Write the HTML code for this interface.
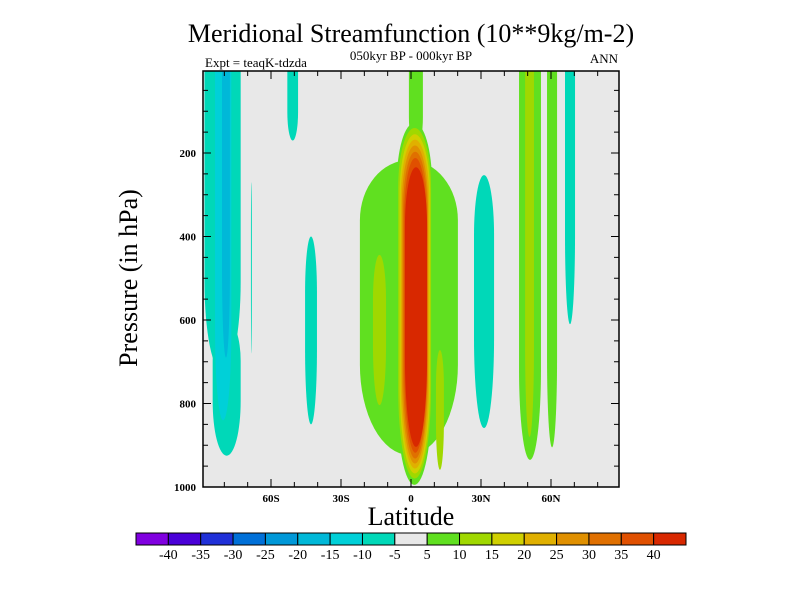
<!DOCTYPE html>
<html><head><meta charset="utf-8">
<style>
html,body{margin:0;padding:0;background:#fff;}
svg{display:block;font-family:"Liberation Serif",serif;}
</style></head>
<body>
<svg id="chart" width="800" height="600" viewBox="0 0 800 600" xmlns="http://www.w3.org/2000/svg">
<text x="411" y="42" text-anchor="middle" font-size="26">Meridional Streamfunction (10**9kg/m-2)</text>
<text x="411" y="60" text-anchor="middle" font-size="13">050kyr BP - 000kyr BP</text>
<text x="205" y="67" font-size="13">Expt = teaqK-tdzda</text>
<text x="618" y="63" text-anchor="end" font-size="13">ANN</text>
<text transform="translate(137,278) rotate(-90)" text-anchor="middle" font-size="26">Pressure (in hPa)</text>
<text x="411" y="525" text-anchor="middle" font-size="26">Latitude</text>
<defs><clipPath id="pc"><rect x="203" y="71" width="416" height="416"/></clipPath></defs>
<rect x="203" y="71" width="416" height="416" fill="#e8e8e8"/>
<g id="fills" clip-path="url(#pc)"></g>
<g id="axes"></g>
<g id="cbar"></g>
</svg>
<script>
// Contour level colors and colorbar labels
const levelColors = ["#8000e0","#4a00d8","#2030d8","#0070d8","#0098d8","#00b8d8","#00d0d8","#00d8b8","#e8e8e8","#60e020","#a0d800","#d0d000","#e0b000","#e09000","#e07000","#e05000","#d82800"];
const levelLabels = ["-40","-35","-30","-25","-20","-15","-10","-5","5","10","15","20","25","30","35","40"];
const xTickVals = [-60,-30,0,30,60];
const xTickLabels = ["60S","30S","0","30N","60N"];
const yTickVals = [200,400,600,800,1000];
// Blobs: [latLeft, latRight, pTop, pBottom, levelIndex]
const blobLat0 = [-88.5,-85,-84,-81,-68.6,-53,-45.4,-21.9,-16.3,10.7,27,46.3,48.9,58.3,66];
const blobLat1 = [-73,-73,-77,-77.6,-68.2,-48.4,-40.3,20.1,-10.7,14.1,35.6,55.7,52.7,62.6,70.3];
const blobTop  = [0,600,0,0,270,0,400,217,444,672,253,0,0,0,0];
const blobBot  = [725,925,840,690,680,170,850,923,804,959,859,935,880,905,610];
const blobLev  = [7,7,6,5,7,7,7,9,10,10,7,9,10,9,7];
// Central cell nested layers (levels 5..40+)
const coreLev  = [9,10,11,12,13,14,15,16];
const coreLat0 = [-6.1,-5.5,-4.9,-4.4,-3.9,-3.4,-2.9,-2.6];
const coreLat1 = [9.0,8.6,8.2,7.8,7.3,7.0,6.6,6.9];
const coreTop  = [128,140,155,168,182,197,212,234];
const coreBot  = [995,980,968,956,944,932,918,904];
const colLat = [-0.9,5.1], colP=[0,150];

const X0=203,X1=619,Y0=71,Y1=487;
const xS = lat => 411 + lat*(70/30);
const yS = p => 487 - (1000-p)*0.4175;
const NS="http://www.w3.org/2000/svg";
const fills=document.getElementById('fills');
function blob(l0,l1,pt,pb,lev,name){
  const x0=xS(l0),x1=xS(l1),yt=yS(pt),yb=yS(pb);
  const w=x1-x0, rx=w/2;
  const hb=Math.min((yb-yt)*0.4, 90), ht=pt<=5?0:Math.min((yb-yt)*0.3,60);
  let d=`M${x0},${yt+ht} `;
  if(ht>0) d+=`A${rx},${ht} 0 0 1 ${x1},${yt+ht} `; else d+=`L${x0},${yt-5} L${x1},${yt-5} `;
  d+=`L${x1},${yb-hb} A${rx},${hb} 0 0 1 ${x0},${yb-hb} Z`;
  const p=document.createElementNS(NS,'path');
  p.setAttribute('d',d);p.setAttribute('fill',levelColors[lev]);
  
  
  fills.appendChild(p);
}
for(let i=0;i<blobLat0.length;i++) blob(blobLat0[i],blobLat1[i],blobTop[i],blobBot[i],blobLev[i],'contour-region-'+i);
blob(colLat[0],colLat[1],colP[0],colP[1]+40,9,'equator-top-column');
for(let i=0;i<coreLev.length;i++) blob(coreLat0[i],coreLat1[i],coreTop[i],coreBot[i],coreLev[i],'hadley-core-level-'+i);

// axes
const ax=document.getElementById('axes');
function el(tag,attrs,name,txt){const e=document.createElementNS(NS,tag);for(const k in attrs)e.setAttribute(k,attrs[k]);


if(txt!==undefined)e.textContent=txt;ax.appendChild(e);return e;}
el('rect',{x:X0,y:Y0,width:X1-X0,height:Y1-Y0,fill:'none',stroke:'#000','stroke-width':1.5},'plot-frame');
for(let lat=-90;lat<=90;lat+=10){const x=xS(lat);if(x<X0||x>X1)continue;const L=(lat%30===0)?8:5;
 el('line',{x1:x,y1:Y1,x2:x,y2:Y1-L,stroke:'#000','stroke-width':1},'x-tick');
 el('line',{x1:x,y1:Y0,x2:x,y2:Y0+L,stroke:'#000','stroke-width':1},'x-tick-top');}
xTickVals.forEach((v,i)=>el('text',{x:xS(v),y:502,'text-anchor':'middle','font-size':11,'font-weight':'bold'},'x-tick-label',xTickLabels[i]));
for(let p=50;p<=1000;p+=50){const y=yS(p);const L=(p%200===0)?8:5;
 el('line',{x1:X0,y1:y,x2:X0+L,y2:y,stroke:'#000','stroke-width':1},'y-tick');
 el('line',{x1:X1,y1:y,x2:X1-L,y2:y,stroke:'#000','stroke-width':1},'y-tick-right');}
yTickVals.forEach(v=>el('text',{x:196,y:yS(v)+4,'text-anchor':'end','font-size':11,'font-weight':'bold'},'y-tick-label',String(v)));

// colorbar
const cb=document.getElementById('cbar');
const cx0=136,cx1=686,cw=(cx1-cx0)/levelColors.length;
levelColors.forEach((c,i)=>{const r=document.createElementNS(NS,'rect');
 r.setAttribute('x',cx0+i*cw);r.setAttribute('y',533);r.setAttribute('width',cw);r.setAttribute('height',12);
 r.setAttribute('fill',c);r.setAttribute('stroke','#000');r.setAttribute('stroke-width',1);
 
 
 cb.appendChild(r);});
levelLabels.forEach((t,i)=>{const e=document.createElementNS(NS,'text');
 e.setAttribute('x',cx0+(i+1)*cw);e.setAttribute('y',559);e.setAttribute('text-anchor','middle');e.setAttribute('font-size',14);
 e.textContent=t;
 
 
 cb.appendChild(e);});
</script>
</body></html>
